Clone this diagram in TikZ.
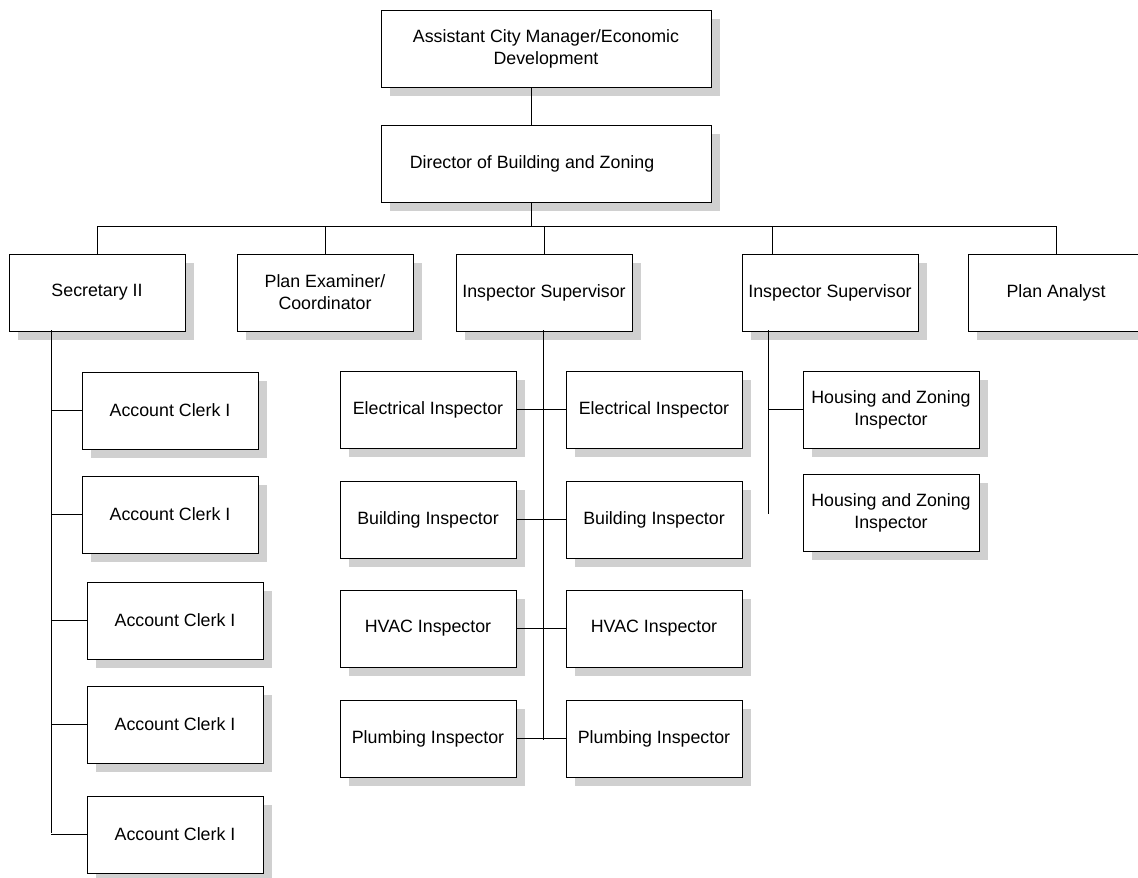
\documentclass[tikz,border=0pt]{standalone}
\usepackage{fontspec}
\setmainfont{Liberation Sans}
\usetikzlibrary{shadows}
\definecolor{shadowgray}{RGB}{208,208,208}
\begin{document}
\begin{tikzpicture}[x=1pt,y=-1pt,
  orgbox/.style={draw=black, line width=0.8pt, fill=white, anchor=north west,
    minimum width=176pt, minimum height=77pt, inner sep=2pt, outer sep=0pt,
    align=center, font=\fontsize{17.8}{21.8}\selectfont,
    drop shadow={shadow xshift=9pt, shadow yshift=-9pt, fill=shadowgray, opacity=1}},
  widebox/.style={orgbox, minimum width=330pt},
  link/.style={draw=black, line width=0.75pt}]
\useasboundingbox (0,0) rectangle (1138,878);

% top of the chart
\node[widebox] (acm) at (381,10) {Assistant City Manager/Economic\\Development};
\node[widebox] (dir) at (381,125) {Director of Building and Zoning\hspace*{28pt}};

% direct reports
\node[orgbox] (sec) at (9,254) {Secretary II};
\node[orgbox] (pex) at (237,254) {Plan Examiner/\\Coordinator};
\node[orgbox] (isa) at (456,254) {Inspector Supervisor};
\node[orgbox] (isb) at (742,254) {Inspector Supervisor};
\node[orgbox] (pan) at (968,254) {Plan Analyst};

% clerks under the secretary
\node[orgbox] (ck1) at (82,372) {Account Clerk I};
\node[orgbox] (ck2) at (82,476) {Account Clerk I};
\node[orgbox] (ck3) at (87,582) {Account Clerk I};
\node[orgbox] (ck4) at (87,686) {Account Clerk I};
\node[orgbox] (ck5) at (87,796) {Account Clerk I};

% inspectors under the first supervisor
\node[orgbox] (el1) at (340,371) {Electrical Inspector};
\node[orgbox] (el2) at (566,371) {Electrical Inspector};
\node[orgbox] (bi1) at (340,481) {Building Inspector};
\node[orgbox] (bi2) at (566,481) {Building Inspector};
\node[orgbox] (hv1) at (340,590) {HVAC Inspector};
\node[orgbox] (hv2) at (566,590) {HVAC Inspector};
\node[orgbox] (pl1) at (340,700) {Plumbing Inspector};
\node[orgbox] (pl2) at (566,700) {Plumbing Inspector};

% inspectors under the second supervisor
\node[orgbox] (hz1) at (803,371) {Housing and Zoning\\Inspector};
\node[orgbox] (hz2) at (803,474) {Housing and Zoning\\Inspector};

% connectors
\coordinate (bus) at (531,226);
\coordinate (isbdrop) at (772,254);
\coordinate (pandrop) at (1056,254);
\draw[link] (acm.south -| bus) -- (dir.north -| bus);
\draw[link] (dir.south -| bus) -- (bus);
\draw[link] (bus) -| (sec.north);
\draw[link] (bus) -| (pex.north);
\draw[link] (bus) -| (isa.north);
\draw[link] (bus) -| (isbdrop);
\draw[link] (bus) -| (pandrop);

% secretary spine
\coordinate (stop) at (51,330);
\coordinate (send) at (51,833);
\draw[link] (stop) -- (send);
\foreach \c in {ck1,ck2,ck3,ck4,ck5}
  \draw[link] (stop |- \c.west) -- (\c.west);

% first supervisor spine
\coordinate (atop) at (543,330);
\coordinate (aend) at (543,740);
\draw[link] (atop) -- (aend);
\draw[link] (el1.east) -- (el2.west);
\draw[link] (bi1.east) -- (bi2.west);
\draw[link] (hv1.east) -- (hv2.west);
\draw[link] (pl1.east) -- (pl2.west);

% second supervisor spine
\coordinate (btop) at (768,330);
\coordinate (bend) at (768,514);
\draw[link] (btop) -- (bend);
\draw[link] (btop |- hz1.west) -- (hz1.west);
\end{tikzpicture}
\end{document}
